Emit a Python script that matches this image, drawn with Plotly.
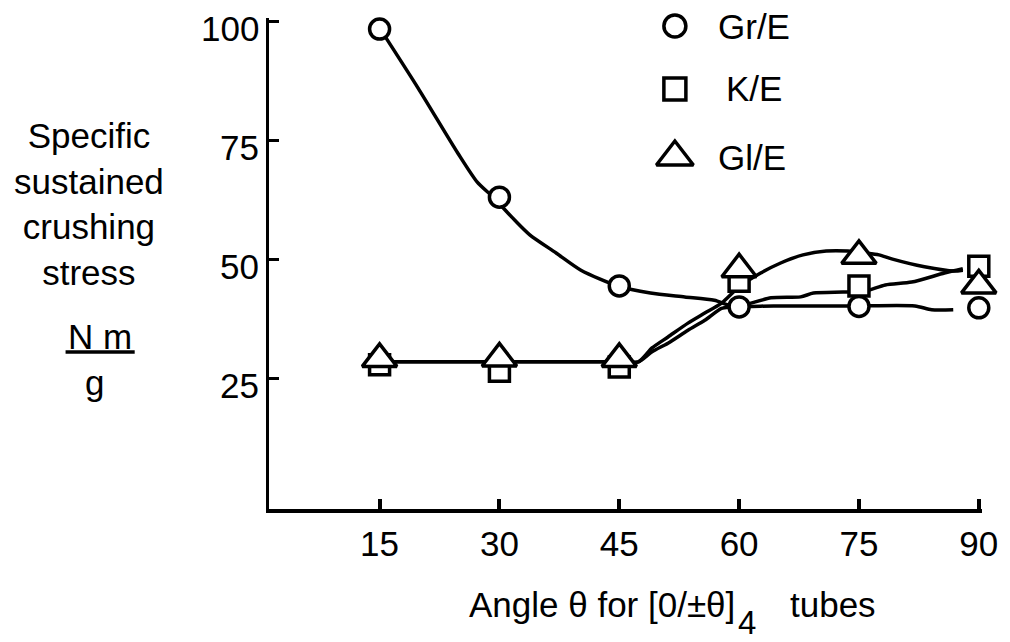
import plotly.graph_objects as go

# ---- data -------------------------------------------------------------
angles = [15, 30, 45, 60, 75, 90]

gr_e = [98.3, 63.1, 44.5, 40.1, 40.2, 39.9]   # Gr/E  (circles)
k_e = [28.0, 26.6, 27.5, 45.5, 44.5, 48.6]    # K/E   (squares)
gl_e = [29.2, 29.3, 29.2, 48.0, 50.8, 44.6]   # Gl/E  (triangles)

# hand-faired trend curves through each series
gr_curve_x = [15.1, 19.8, 24.8, 27.2, 29.2, 31.9, 33.8, 37.1, 40.2, 44.8,
              48.9, 53.2, 56.9, 59.1, 64.3, 74.2, 82.0, 84.1, 86.8]
gr_curve_y = [98.3, 86.0, 72.3, 66.3, 63.1, 58.3, 55.2, 51.4, 47.8, 44.5,
              43.0, 42.2, 41.5, 40.3, 40.3, 40.3, 40.3, 39.5, 39.5]

gl_curve_x = [15, 30, 45, 47.4, 49.1, 51.1, 53.6, 55.7, 57.8, 60.0, 62.7,
              65.2, 68.0, 70.9, 73.6, 75.8, 77.5, 79.2, 83.2, 86.9, 88.0]
gl_curve_y = [28.6, 28.6, 28.6, 28.6, 31.5, 33.8, 36.7, 38.8, 40.9, 44.3, 47.2,
              49.3, 51.0, 51.8, 51.8, 51.4, 51.0, 50.1, 48.5, 47.6, 47.8]

k_curve_x = [15, 30, 45, 47.4, 49.1, 51.1, 53.6, 55.7, 57.8, 59.1, 60.6,
             64.0, 67.7, 69.3, 73.0, 75.8, 78.3, 81.6, 85.7, 88.0]
k_curve_y = [28.6, 28.6, 28.6, 28.6, 30.7, 32.5, 35.2, 37.3, 39.8, 40.1, 40.5,
             42.0, 42.2, 43.0, 43.2, 43.4, 44.7, 45.3, 47.2, 48.1]

series_names = ["Gr/E", "K/E", "Gl/E"]
y_ticks = [25, 50, 75, 100]

# ---- layout geometry (pixels) -------------------------------------------
W, H = 1010, 642
L, R, T, B = 269, 19, 18, 133
PW, PH = W - L - R, H - T - B
FONT = "Liberation Sans, Arial, Helvetica, sans-serif"
FS = 35
INK = "black"


def fx(px):
    return (px - L) / PW


def fy(py):
    return (H - B - py) / PH


MARK = dict(color="white", line=dict(color=INK, width=3.5))
SYMBOLS = {"Gr/E": ("circle", 20), "K/E": ("square", 20), "Gl/E": ("triangle-up", 30)}

fig = go.Figure()

# curves first so that the open markers sit on top of them
for cx, cy in [(gr_curve_x, gr_curve_y), (k_curve_x, k_curve_y), (gl_curve_x, gl_curve_y)]:
    fig.add_trace(go.Scatter(x=cx, y=cy, mode="lines", showlegend=False, hoverinfo="skip",
                             line=dict(color=INK, width=3.5, shape="spline", smoothing=0.7)))

for name, vals in zip(series_names, [gr_e, k_e, gl_e]):
    sym, size = SYMBOLS[name]
    fig.add_trace(go.Scatter(x=angles, y=vals, mode="markers", name=name, showlegend=False,
                             cliponaxis=False,
                             marker=dict(symbol=sym, size=size, **MARK)))

# key: symbols drawn on an overlay pixel-space axis pair, labels as annotations
key_rows = [("Gr/E", 680, 26, 722), ("K/E", 680, 89, 730), ("Gl/E", 680, 157, 722)]
for name, kx, ky, tx in key_rows:
    sym, size = SYMBOLS[name]
    fig.add_trace(go.Scatter(x=[kx], y=[ky], xaxis="x2", yaxis="y2", mode="markers",
                             showlegend=False, hoverinfo="skip", cliponaxis=False,
                             marker=dict(symbol=sym, size=size + 2, **MARK)))

text_font = dict(family=FONT, size=FS, color=INK)
annotations = []
for name, kx, ky, tx in key_rows:
    annotations.append(dict(text=name, x=fx(tx), y=fy(ky), xanchor="left", yanchor="middle",
                            xref="paper", yref="paper"))

# y tick labels sit a little below their tick marks
for v in y_ticks:
    annotations.append(dict(text=str(v), x=fx(261), y=v, xref="paper", yref="y",
                            xanchor="right", yanchor="middle", yshift=-7))

annotations += [
    dict(text="Specific<br>sustained<br>crushing<br>stress", x=fx(87), y=fy(204),
         xanchor="center", yanchor="middle", align="center"),
    dict(text="N m", x=fx(98), y=fy(336), xanchor="center", yanchor="middle"),
    dict(text="g", x=fx(92), y=fy(382), xanchor="center", yanchor="middle"),
    dict(text="Angle θ for [0/±θ]", x=fx(470), y=fy(604), xanchor="left", yanchor="middle"),
    dict(text="4", x=fx(753), y=fy(622), xanchor="center", yanchor="middle",
         font=dict(family=FONT, size=33, color=INK)),
    dict(text="tubes", x=fx(886), y=fy(604), xanchor="right", yanchor="middle"),
]
for a in annotations:
    a.setdefault("xref", "paper")
    a.setdefault("yref", "paper")
    a.setdefault("font", text_font)
    a["showarrow"] = False

fig.update_layout(
    width=W, height=H,
    margin=dict(l=L, r=R, t=T, b=B, pad=0),
    paper_bgcolor="white", plot_bgcolor="white",
    font=dict(family=FONT, size=FS, color=INK),
    showlegend=False,
    annotations=annotations,
    shapes=[dict(type="line", xref="paper", yref="paper", x0=fx(63), x1=fx(133),
                 y0=fy(352), y1=fy(352), line=dict(color=INK, width=3.5))],
    xaxis=dict(range=[1.16, 90.4], tickvals=angles, ticks="inside", ticklen=10, tickwidth=3.5,
               tickcolor=INK, showline=True, linewidth=3.5, linecolor=INK, showgrid=False,
               zeroline=False, ticklabelstandoff=1, tickfont=dict(size=FS)),
    yaxis=dict(range=[-2.24, 100.63], tickvals=y_ticks, ticks="inside", ticklen=10, tickwidth=3,
               tickcolor=INK, showline=True, linewidth=3, linecolor=INK, showgrid=False,
               zeroline=False, showticklabels=False),
    xaxis2=dict(range=[L, L + PW], overlaying="x", visible=False, fixedrange=True),
    yaxis2=dict(range=[H - B, T], overlaying="y", visible=False, fixedrange=True),
)

fig.write_html("out.html")
